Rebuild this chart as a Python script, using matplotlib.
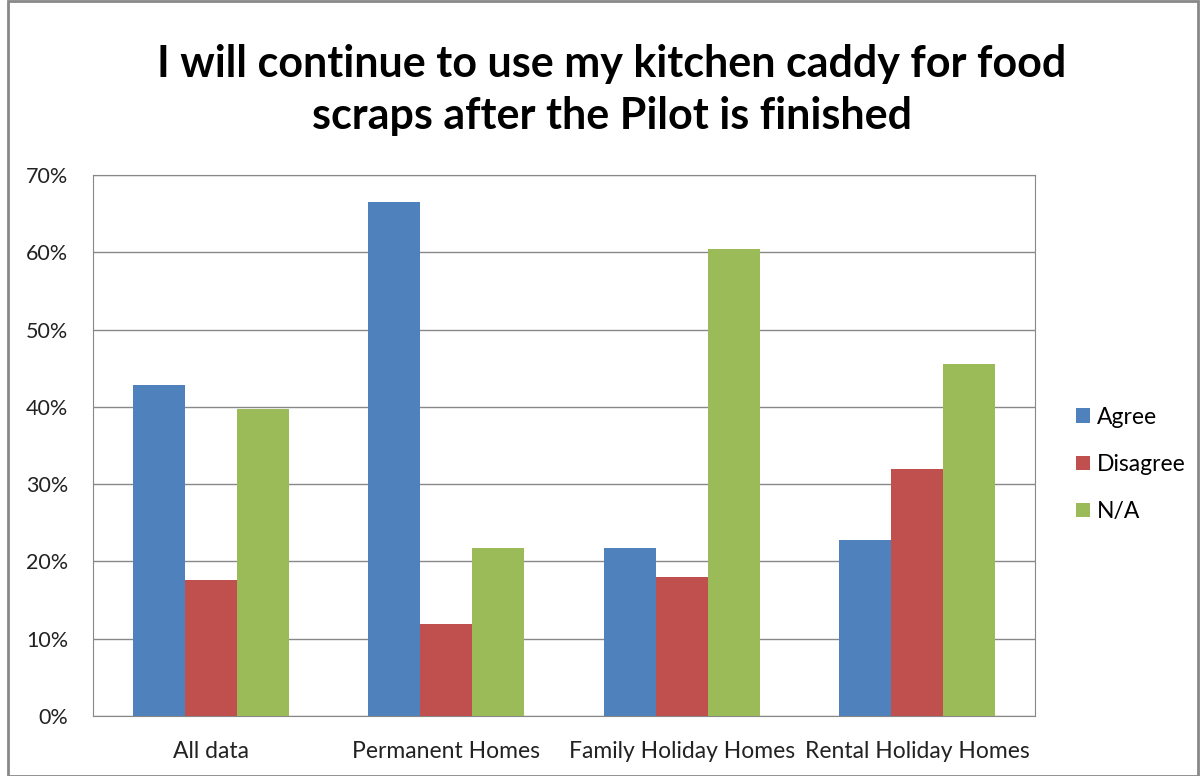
import matplotlib
matplotlib.use("Agg")
import matplotlib.pyplot as plt
import numpy as np
from matplotlib.patches import Rectangle

plt.rcParams['font.family'] = ['Lato', 'DejaVu Sans']

categories = ["All data", "Permanent Homes", "Family Holiday Homes", "Rental Holiday Homes"]
series = ["Agree", "Disagree", "N/A"]
agree = [42.8, 66.5, 21.7, 22.8]
disagree = [17.6, 11.9, 18.0, 31.9]
na = [39.7, 21.7, 60.4, 45.5]
colors = ["#4F81BD", "#C0504D", "#9BBB59"]

fig = plt.figure(figsize=(12.04, 7.76), dpi=100)
ax = fig.add_axes([93/1204, 1-716/776, (1035-93)/1204, (716-175)/776])

x = np.arange(len(categories))
w = 0.221
for i, (vals, name) in enumerate(zip([agree, disagree, na], series)):
    ax.bar(x + (i-1)*w, vals, w, color=colors[i], label=name, zorder=3)

ax.set_xlim(-0.5, 3.5)
ax.set_ylim(0, 70)
ax.set_yticks(range(0, 71, 10))
ax.set_yticklabels([f"{v}%" for v in range(0, 71, 10)], fontsize=15.5, color="#222222")
ax.set_xticks(x)
ax.set_xticklabels(categories, fontsize=16.5, color="#222222")
ax.tick_params(axis='y', length=0, pad=18)
ax.tick_params(axis='x', length=0, pad=18)
ax.yaxis.grid(True, color="#888888", linewidth=1, zorder=0)
for s in ax.spines.values():
    s.set_color("#888888")

ax.legend(loc="center left", bbox_to_anchor=(1.022, 0.465), frameon=False,
          fontsize=16.5, handlelength=0.6, handleheight=0.6, labelspacing=1.15,
          handletextpad=0.3)

fig.text(0.508, 0.884, "I will continue to use my kitchen caddy for food\nscraps after the Pilot is finished",
         ha="center", va="center", fontsize=31, fontweight="bold", linespacing=1.38)

fig.patches.append(Rectangle((8/1204, 0.0), 1190/1204, 0.999, transform=fig.transFigure,
                             fill=False, edgecolor="#888888", linewidth=2))

fig.savefig("out.png", dpi=100)
